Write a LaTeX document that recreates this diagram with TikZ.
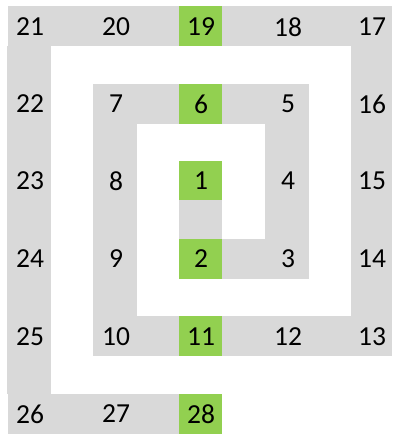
\documentclass[tikz,border=0pt]{standalone}
\usepackage{fontspec}
\setmainfont{Carlito}
\definecolor{cellgray}{HTML}{D9D9D9}
\definecolor{cellgreen}{HTML}{92D050}
\begin{document}
\begin{tikzpicture}[x=1pt,y=-1pt,
  band/.style={fill=cellgray},
  hit/.style={fill=cellgreen},
  num/.style={font=\fontsize{27.5}{27.5}\selectfont, inner sep=0pt, text=black}]
\useasboundingbox (0,0) rectangle (392,434);
% gray spiral bands
\fill[band] (8,6) rectangle (392,46);
\fill[band] (7,46) rectangle (51,394);
\fill[band] (8,394) rectangle (222,434);
\fill[band] (351,46) rectangle (392,356);
\fill[band] (93,316) rectangle (351,356);
\fill[band] (93,84) rectangle (137,316);
\fill[band] (137,84) rectangle (309,124);
\fill[band] (265,124) rectangle (309,279);
\fill[band] (179,239) rectangle (265,279);
\fill[band] (179,200) rectangle (222,239);
% green cells
\foreach \ya/\yb in {6/46, 84/124, 161/200, 239/279, 316/356, 394/434}
  \fill[hit] (179,\ya) rectangle (222,\yb);
% numbers
\foreach \t/\x/\y in {
  21/30/27, 20/116/27, 19/201/27, 18/288/27, 17/372/27,
  22/30/104, 7/116/104, 6/201/104, 5/288/104, 16/372/104,
  23/30/181, 8/116/181, 1/201/181, 4/288/181, 15/372/181,
  24/30/259, 9/116/259, 2/201/259, 3/288/259, 14/372/259,
  25/30/337, 10/116/337, 11/201/337, 12/288/337, 13/372/337,
  26/30/414, 27/116/414, 28/201/414}
  \node[num] (n\t) at (\x,\y) {\t};
\end{tikzpicture}
\end{document}
